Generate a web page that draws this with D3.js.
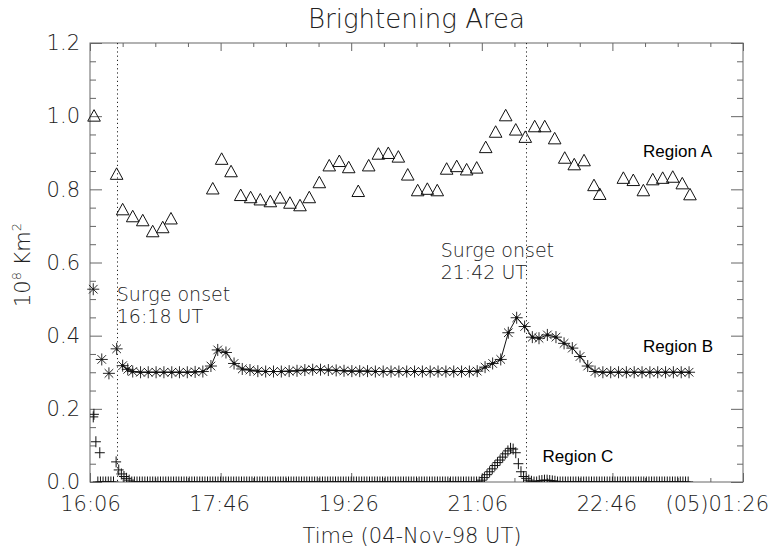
<!DOCTYPE html>
<html>
<head>
<meta charset="utf-8">
<script src="https://cdn.jsdelivr.net/npm/d3@7"></script>
<style>
  html, body { margin: 0; padding: 0; background: #fff; }
  svg { display: block; }
  .tick text { font-family: "DejaVu Sans", sans-serif; font-weight: 200; fill: #222; }
</style>
</head>
<body>
<svg id="chart" width="775" height="552"></svg>
<script>
// ---------------- DATA (time = minutes after 16:06 UT) ----------------
const xMajorTicks = [0, 100, 200, 300, 400, 500];
const xTickLabels = ["16:06", "17:46", "19:26", "21:06", "22:46", "(05)01:26"];
const yMajorTicks = [0, 0.2, 0.4, 0.6, 0.8, 1.0, 1.2];

// Region A (triangles)
const aTimes = [3.1, 20.4, 25.0, 32.7, 40.4, 48.0, 55.7, 62.0,
  94.0, 100.8, 108.0, 115.4, 123.0, 130.4, 138.1, 145.5, 153.1, 160.8, 167.9, 175.6,
  183.2, 190.9, 198.1, 205.4, 213.4, 220.8, 228.4, 236.1, 243.3, 250.9, 258.3, 265.9,
  273.1, 280.8, 288.4, 296.1, 303.0, 310.6, 318.3, 326.0, 333.3, 340.5, 348.2, 355.8,
  363.5, 370.8, 378.3, 385.9, 390.3,
  408.4, 416.0, 423.7, 430.9, 438.5, 446.2, 453.5, 459.4];
const aValues = [1.000, 0.841, 0.744, 0.725, 0.714, 0.684, 0.695, 0.719,
  0.801, 0.882, 0.848, 0.783, 0.777, 0.771, 0.766, 0.776, 0.762, 0.755, 0.777, 0.818,
  0.864, 0.876, 0.859, 0.794, 0.864, 0.896, 0.898, 0.888, 0.839, 0.796, 0.800, 0.796,
  0.855, 0.862, 0.853, 0.858, 0.914, 0.956, 1.001, 0.962, 0.942, 0.971, 0.971, 0.938,
  0.885, 0.867, 0.878, 0.810, 0.786,
  0.830, 0.824, 0.796, 0.826, 0.830, 0.833, 0.815, 0.785];

// Region B (asterisks)
const bTimes = [2.5, 9.0, 14.5, 20.4, 25.0, 28.9, 32.7, 38.7, 44.6, 50.6, 56.6, 62.6,
  68.5, 74.5, 80.5, 86.4, 92.6, 97.8, 104.1, 110.3, 116.6, 122.5,
  128.5, 134.5, 140.5, 146.5, 152.5, 158.5, 164.5, 170.5, 176.5, 182.5, 188.5, 194.5,
  200.5, 206.5, 212.5, 218.5, 224.5, 230.5, 236.5, 242.5, 248.5, 254.5, 260.5, 266.5,
  272.5, 278.5, 284.5, 290.5, 296.5,
  302.5, 308.3, 314.5, 320.3, 326.7, 332.8, 338.7, 343.8, 350.2, 356.8, 363.0, 369.3,
  375.2, 381.1, 386.7,
  392.7, 398.7, 404.7, 410.7, 416.7, 422.7, 428.7, 434.7, 440.7, 446.7, 452.7, 458.7];
const bValues = [0.527, 0.335, 0.297, 0.364, 0.318, 0.308, 0.302, 0.300, 0.300, 0.300, 0.300, 0.300,
  0.300, 0.300, 0.301, 0.302, 0.317, 0.361, 0.354, 0.324, 0.309, 0.306,
  0.303, 0.302, 0.302, 0.302, 0.303, 0.304, 0.306, 0.307, 0.307, 0.306, 0.305, 0.304,
  0.303, 0.303, 0.303, 0.302, 0.302, 0.302, 0.302, 0.302, 0.302, 0.302, 0.302, 0.302,
  0.302, 0.302, 0.302, 0.302, 0.303,
  0.314, 0.324, 0.335, 0.408, 0.449, 0.425, 0.396, 0.393, 0.402, 0.396, 0.379, 0.366,
  0.343, 0.317, 0.302,
  0.300, 0.300, 0.300, 0.300, 0.300, 0.300, 0.300, 0.300, 0.300, 0.300, 0.300, 0.300];

// Region C (plus signs): first few samples, then the 2-minute series
const cEarlyTimes = [2.5, 3.0, 4.5, 7.5];
const cEarlyValues = [0.178, 0.185, 0.110, 0.080];
const cStart = 6, cStep = 2;   // cValues[i] is at time cStart + i*cStep
const cValues = [
  0, 0, 0, 0, 0, 0, 0,
  0.055, 0.033, 0.022, 0.015, 0.010, 0.005,
  0, 0, 0, 0, 0, 0, 0, 0, 0, 0, 0, 0, 0, 0, 0, 0, 0, 0, 0, 0,
  0, 0, 0, 0, 0, 0, 0, 0, 0, 0, 0, 0, 0, 0, 0, 0, 0, 0, 0, 0,
  0, 0, 0, 0, 0, 0, 0, 0, 0, 0, 0, 0, 0, 0, 0, 0, 0, 0, 0, 0,
  0, 0, 0, 0, 0, 0, 0, 0, 0, 0, 0, 0, 0, 0, 0, 0, 0, 0, 0, 0,
  0, 0, 0, 0, 0, 0, 0, 0, 0, 0, 0, 0, 0, 0, 0, 0, 0, 0, 0, 0,
  0, 0, 0, 0, 0, 0, 0, 0, 0, 0, 0, 0, 0, 0, 0, 0, 0, 0, 0, 0,
  0, 0, 0, 0, 0, 0, 0, 0, 0, 0, 0, 0, 0, 0,
  0.005, 0.012, 0.020, 0.028, 0.036, 0.045, 0.053, 0.060, 0.068, 0.077, 0.085, 0.092,
  0.090, 0.080, 0.050, 0.028, 0.015, 0.010, 0.005, 0.002, 0, 0, 0.003, 0.004, 0.005,
  0.005, 0.004, 0.003, 0.002,
  0, 0, 0, 0, 0, 0, 0, 0, 0, 0, 0, 0, 0, 0, 0, 0, 0, 0, 0, 0,
  0, 0, 0, 0, 0, 0, 0, 0, 0, 0, 0, 0, 0, 0, 0, 0, 0, 0, 0, 0,
  0, 0, 0, 0, 0, 0, 0, 0, 0, 0, 0];

// Surge onsets
const onsetTimes = [21, 334];
const onsetLabels = [["Surge onset", "16:18 UT"], ["Surge onset", "21:42 UT"]];
const onsetLabelTimes = [20.5, 268.5];
const onsetLabelValues = [0.522, 0.643];

// Region labels
const regionNames = ["Region A", "Region B", "Region C"];
const regionLabelPos = [[423.5, 0.888], [423.5, 0.356], [346.5, 0.054]];

// ---------------- CHART ----------------
const svg = d3.select("#chart");
const L = 90, R = 743, T = 43, B = 482;
const x = d3.scaleLinear().domain([0, 500]).range([L, R]);
const y = d3.scaleLinear().domain([0, 1.2]).range([B, T]);

const frameColor = "#666";
const ink = "#111";

svg.append("defs").append("clipPath").attr("id", "plotclip")
  .append("rect").attr("x", L).attr("y", T).attr("width", R - L).attr("height", B - T);

svg.append("rect").attr("x", L).attr("y", T).attr("width", R - L).attr("height", B - T)
  .attr("fill", "none").attr("stroke", frameColor).attr("stroke-width", 1);

const xMinor = d3.range(0, 501, 25).filter(d => d % 100 !== 0);
const yMinor = d3.range(0, 1.2001, 0.05).filter(d => Math.abs(Math.round(d / 0.2) * 0.2 - d) > 1e-6);

function styleAxis(g) {
  g.select(".domain").remove();
  g.selectAll(".tick line").attr("stroke", frameColor);
}
svg.append("g").attr("transform", `translate(0,${B})`)
  .call(d3.axisBottom(x).tickValues(xMajorTicks).tickSize(-9).tickPadding(14)
    .tickFormat((d, i) => xTickLabels[i]))
  .call(styleAxis)
  .call(g => g.selectAll(".tick text").attr("font-size", 21)
    .attr("dx", (d, i) => i === 5 ? "-1.25em" : (-1.5 * i) + "px"));
svg.append("g").attr("transform", `translate(0,${B})`)
  .call(d3.axisBottom(x).tickValues(xMinor).tickSize(-4).tickFormat(""))
  .call(styleAxis);
svg.append("g").attr("transform", `translate(0,${T})`)
  .call(d3.axisTop(x).tickValues(xMajorTicks).tickSize(-8).tickFormat(""))
  .call(styleAxis);
svg.append("g").attr("transform", `translate(0,${T})`)
  .call(d3.axisTop(x).tickValues(xMinor).tickSize(-4).tickFormat(""))
  .call(styleAxis);
svg.append("g").attr("transform", `translate(${L},0)`)
  .call(d3.axisLeft(y).tickValues(yMajorTicks).tickSize(-12).tickPadding(10)
    .tickFormat(d3.format(".1f")))
  .call(styleAxis)
  .call(g => g.selectAll(".tick text").attr("font-size", 21));
svg.append("g").attr("transform", `translate(${L},0)`)
  .call(d3.axisLeft(y).tickValues(yMinor).tickSize(-6).tickFormat(""))
  .call(styleAxis);
svg.append("g").attr("transform", `translate(${R},0)`)
  .call(d3.axisRight(y).tickValues(yMajorTicks).tickSize(-12).tickFormat(""))
  .call(styleAxis);
svg.append("g").attr("transform", `translate(${R},0)`)
  .call(d3.axisRight(y).tickValues(yMinor).tickSize(-6).tickFormat(""))
  .call(styleAxis);

// onset dotted lines
svg.append("g").selectAll("line").data(onsetTimes).join("line")
  .attr("x1", d => Math.round(x(d)) + 0.5).attr("x2", d => Math.round(x(d)) + 0.5)
  .attr("y1", T).attr("y2", B)
  .attr("stroke", "#222").attr("stroke-width", 1).attr("stroke-dasharray", "1.2,3");

// Region C
const cData = cValues.map((v, i) => [cStart + i * cStep, v])
  .concat(cEarlyTimes.map((t, i) => [t, cEarlyValues[i]]));
const plusPath = "M-5,0H5M0,-5.5V5.5";
svg.append("g").attr("clip-path", "url(#plotclip)")
  .selectAll("path").data(cData).join("path")
  .attr("transform", d => `translate(${x(d[0])},${y(d[1])})`)
  .attr("d", plusPath).attr("fill", "none").attr("stroke", ink).attr("stroke-width", 1);

// Region B line + asterisks
const bData = bTimes.map((t, i) => [t, bValues[i]]);
svg.append("path").datum(bData.filter(d => d[0] >= 25))
  .attr("d", d3.line().x(d => x(d[0])).y(d => y(d[1])))
  .attr("fill", "none").attr("stroke", ink).attr("stroke-width", 1);
const astPath = "M0,-6V6M-6,0H6M-4.3,-4.3L4.3,4.3M-4.3,4.3L4.3,-4.3";
const bG = svg.append("g");
bG.selectAll("path").data(bData).join("path")
  .attr("transform", d => `translate(${x(d[0])},${y(d[1])})`)
  .attr("d", astPath).attr("fill", "none").attr("stroke", ink).attr("stroke-width", 0.9);
bG.selectAll("circle").data(bData.filter(d => d[0] >= 25)).join("circle")
  .attr("cx", d => x(d[0])).attr("cy", d => y(d[1])).attr("r", 1.6).attr("fill", ink);

// Region A triangles
const triPath = "M0,-6.5L6.3,5L-6.3,5Z";
svg.append("g").selectAll("path").data(aTimes.map((t, i) => [t, aValues[i]])).join("path")
  .attr("transform", d => `translate(${x(d[0])},${y(d[1])})`)
  .attr("d", triPath).attr("fill", "none").attr("stroke", ink).attr("stroke-width", 1);

// onset labels
const lightFont = "'DejaVu Sans', sans-serif";
onsetLabelTimes.forEach((t, i) => {
  const tx = svg.append("text").attr("x", x(t)).attr("y", y(onsetLabelValues[i]) + 10)
    .attr("font-family", lightFont).attr("font-weight", 200).attr("font-size", 19)
    .attr("fill", "#222");
  onsetLabels[i].forEach((s, j) => tx.append("tspan").attr("x", x(t)).attr("dy", j === 0 ? 0 : 22).text(s));
});

// region labels
regionNames.forEach((n, i) => {
  svg.append("text").attr("x", x(regionLabelPos[i][0])).attr("y", y(regionLabelPos[i][1]))
    .attr("font-family", "'Liberation Sans', Arial, sans-serif").attr("font-size", 17)
    .attr("fill", "#000").text(n);
});

// title
svg.append("text").attr("x", (L + R) / 2).attr("y", 28).attr("text-anchor", "middle")
  .attr("font-family", lightFont).attr("font-weight", 200).attr("font-size", 26)
  .attr("fill", "#222").text("Brightening Area");

// x axis title
svg.append("text").attr("x", 412).attr("y", 543).attr("text-anchor", "middle")
  .attr("font-family", lightFont).attr("font-weight", 200).attr("font-size", 21)
  .attr("fill", "#222").text("Time (04-Nov-98 UT)");

// y axis title
const yt = svg.append("text").attr("transform", "translate(30,265) rotate(-90)")
  .attr("text-anchor", "middle").attr("font-family", lightFont).attr("font-weight", 200)
  .attr("font-size", 21).attr("fill", "#222");
yt.append("tspan").text("10");
yt.append("tspan").attr("font-size", 13).attr("dy", -9).text("8");
yt.append("tspan").attr("dy", 9).text(" Km");
yt.append("tspan").attr("font-size", 13).attr("dy", -9).text("2");
</script>
</body>
</html>
